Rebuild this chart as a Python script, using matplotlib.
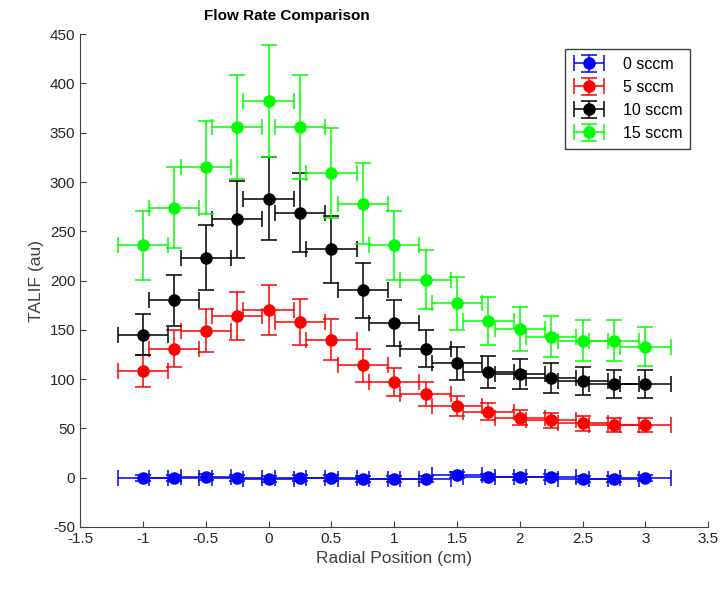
import numpy as np
import matplotlib
matplotlib.use('Agg')
import matplotlib.pyplot as plt
from matplotlib.container import ErrorbarContainer
from matplotlib.legend_handler import HandlerErrorbar

plt.rcParams['font.family'] = ['Liberation Sans', 'DejaVu Sans']
plt.rcParams['axes.unicode_minus'] = False

# radial positions (cm)
pos = [-1.0, -0.75, -0.5, -0.25, 0.0, 0.25, 0.5, 0.75, 1.0, 1.25, 1.5, 1.75, 2.0, 2.25, 2.5, 2.75, 3.0]
pos_err = [0.2] * 17

# TALIF signal per flow rate
talif_0 = [0, 0, 1, 0, -1, 0, 0, -1, -1, -1, 3, 1, 1, 1, -1, -1, 0]
err_0 = [3, 3, 3, 3, 3, 3, 3, 3, 3, 3, 3, 3, 3, 3, 3, 3, 3]

talif_5 = [108, 131, 149, 164, 170, 158, 140, 114, 97, 85, 73, 67, 61, 58, 55, 53, 53]
err_5 = [16, 19, 22, 24, 25, 23, 21, 17, 14, 12, 10, 9, 8, 8, 8, 7, 7]

talif_10 = [145, 180, 223, 262, 283, 269, 232, 190, 157, 131, 116, 107, 105, 101, 98, 95, 95]
err_10 = [21, 26, 33, 39, 42, 40, 34, 28, 23, 19, 17, 16, 15, 15, 14, 14, 14]

talif_15 = [236, 274, 315, 356, 382, 356, 309, 278, 236, 201, 177, 159, 151, 143, 139, 139, 133]
err_15 = [35, 41, 47, 53, 57, 53, 46, 41, 35, 30, 27, 24, 22, 21, 21, 21, 20]

series = [
    (talif_0, err_0, 'b', '0 sccm'),
    (talif_5, err_5, 'r', '5 sccm'),
    (talif_10, err_10, 'k', '10 sccm'),
    (talif_15, err_15, '#00ff00', '15 sccm'),
]

fig = plt.figure(figsize=(7.22, 5.90), dpi=100)
ax = fig.add_axes([0.111, 0.107, 0.870, 0.835])

for y, e, c, lab in series:
    ax.errorbar(pos, y, yerr=e, xerr=pos_err, fmt='o', color=c, ecolor=c,
                ms=8, elinewidth=1.1, capsize=6, capthick=1.1, label=lab)

ax.set_xlim(-1.5, 3.5)
ax.set_ylim(-50, 450)
ax.set_xticks(np.arange(-1.5, 3.51, 0.5))
ax.set_xticklabels(['-1.5', '-1', '-0.5', '0', '0.5', '1', '1.5', '2', '2.5', '3', '3.5'])
ax.set_yticks(np.arange(-50, 451, 50))

for s in ['top', 'right']:
    ax.spines[s].set_visible(False)
for s in ['left', 'bottom']:
    ax.spines[s].set_color('#404040')
ax.tick_params(direction='in', length=4, colors='#404040', labelsize=11, labelcolor='#262626')

# title sits left of the axes centre in the original
fig.text(0.397, 0.973, 'Flow Rate Comparison', fontsize=11, fontweight='bold',
         ha='center', va='center')
ax.set_xlabel('Radial Position (cm)', fontsize=12.5, color='#404040')
ax.set_ylabel('TALIF (au)', fontsize=12.5, color='#404040')

leg = ax.legend(loc='upper right', bbox_to_anchor=(0.971, 0.970), borderaxespad=0,
                fontsize=11.5, fancybox=False, edgecolor='#404040', framealpha=1,
                handlelength=2.0, handletextpad=1.1, borderpad=0.5,
                labelspacing=0.5,
                handler_map={ErrorbarContainer: HandlerErrorbar(xerr_size=0.95, yerr_size=0.55)})
leg.get_frame().set_linewidth(1.0)

fig.savefig('out.png', dpi=100)
